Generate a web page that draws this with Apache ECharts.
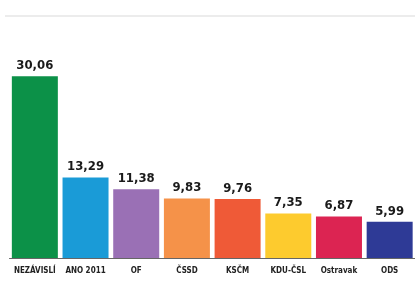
<!DOCTYPE html>
<html>
<head>
<meta charset="utf-8">
<script src="https://cdn.jsdelivr.net/npm/echarts@6/dist/echarts.min.js"></script>
<style>html,body{margin:0;padding:0;background:#fff}#c{width:415px;height:282px}</style>
</head>
<body>
<div id="c"></div>
<script>
const categories = ['NEZÁVISLÍ', 'ANO 2011', 'OF', 'ČSSD', 'KSČM', 'KDU-ČSL', 'Ostravak', 'ODS'];
const values = [30.06, 13.29, 11.38, 9.83, 9.76, 7.35, 6.87, 5.99];
const colors = ['#0c9148', '#1a9bd7', '#9a70b5', '#f59249', '#ef5a37', '#fdcb2e', '#dc2452', '#2e3a96'];

const chart = echarts.init(document.getElementById('c'), null, {renderer: 'canvas'});
const font = '"DejaVu Sans Condensed", sans-serif';
chart.setOption({
  animation: false,
  backgroundColor: '#ffffff',
  graphic: [
    {type: 'line', shape: {x1: 5, y1: 16, x2: 415, y2: 16}, style: {stroke: '#ececec', lineWidth: 2}}
  ],
  grid: {left: 9.5, width: 410.4, top: 16, bottom: 24},
  xAxis: {
    type: 'category',
    data: categories,
    axisTick: {show: false},
    axisLine: {lineStyle: {color: '#666', width: 1}},
    axisLabel: {interval: 0, margin: 9, color: '#222', fontFamily: font, fontWeight: 'bold', fontSize: 8}
  },
  yAxis: {type: 'value', min: 0, max: 40, show: false, splitLine: {show: false}},
  series: [{
    type: 'bar',
    barWidth: 46,
    data: values.map((v, i) => ({value: v, itemStyle: {color: colors[i]}})),
    label: {
      show: true,
      position: 'top',
      distance: 4,
      color: '#1a1a1a',
      fontFamily: font,
      fontWeight: 'bold',
      fontSize: 13,
      formatter: p => p.value.toFixed(2).replace('.', ',')
    }
  }]
});
</script>
</body>
</html>
